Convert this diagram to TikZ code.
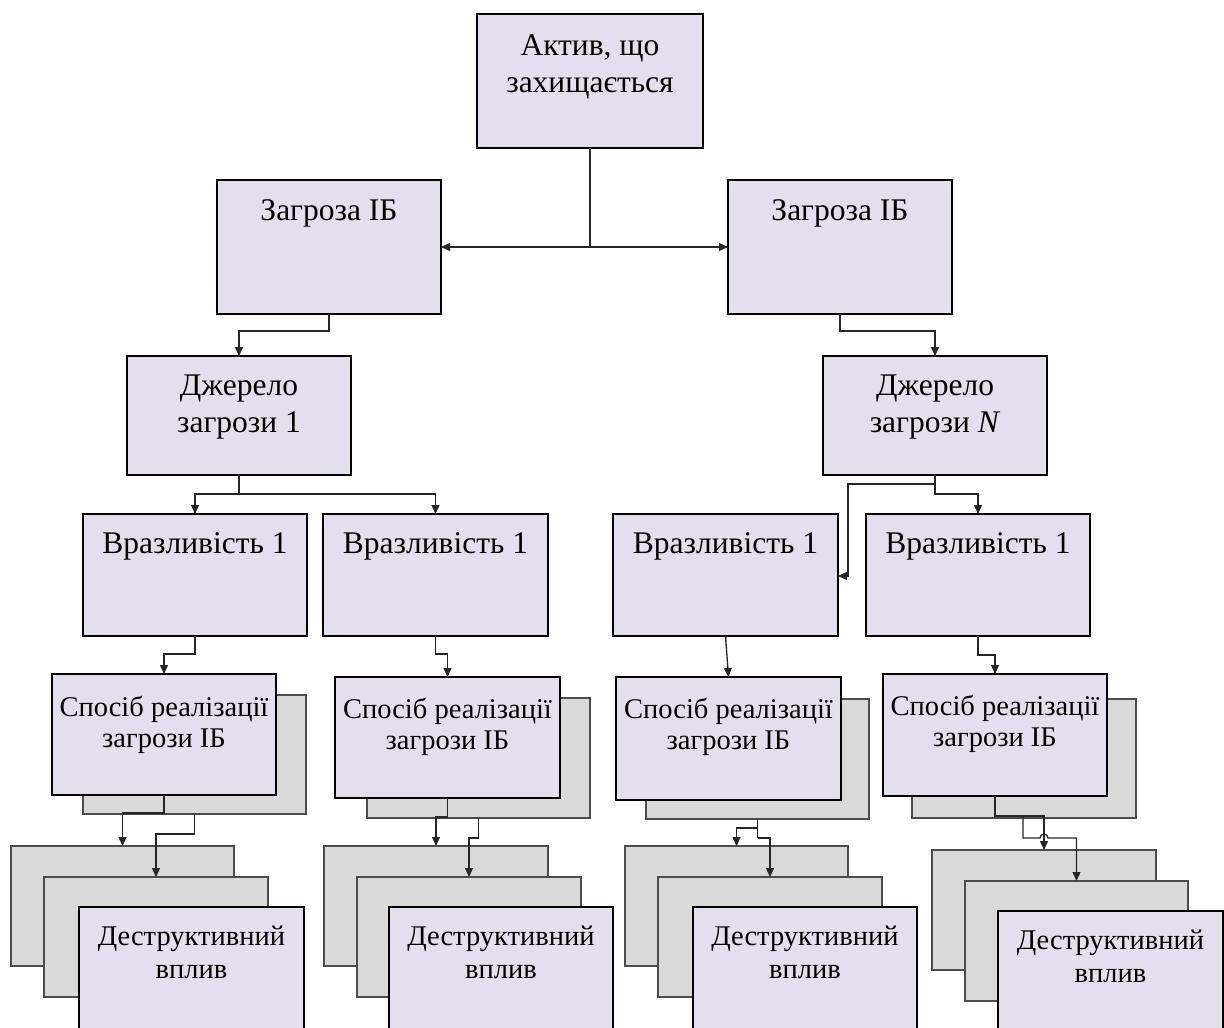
\documentclass[tikz,border=0pt]{standalone}
\usepackage{fontspec}
\setmainfont{Liberation Serif}
\usetikzlibrary{arrows.meta}
\definecolor{lav}{HTML}{E4DFEC}
\definecolor{gr}{HTML}{D9D9D9}
\newcommand\mybox[6]{\node[#6, anchor=north west, minimum width={#4-#2}, minimum height={#5-#3}] (#1) at (#2,#3) {};}
\newcommand\mytxt[4]{\node[lbl, yshift=-#3pt] (#1) at (#2.north) {#4};}
\newcommand\mysmall[4]{\node[lbl, font=\fontsize{28.5}{34}\selectfont, yshift=-#3pt] (#1) at (#2.north) {#4};}
\tikzset{
  front/.style={draw=black, line width=2pt, fill=lav, inner sep=0pt, outer sep=0pt},
  back/.style={draw=black!70, line width=1.3pt, fill=gr, inner sep=0pt, outer sep=0pt},
  lbl/.style={anchor=base, inner sep=0pt, font=\fontsize{31.5}{37}\selectfont},
  conn/.style={draw=black!85, line width=1.3pt},
  arr/.style={conn, -{Triangle[length=9pt,width=8pt]}}
}
\begin{document}
\begin{tikzpicture}[x=1pt,y=-1pt]
\useasboundingbox (0,0) rectangle (1224,1028);
\clip (0,0) rectangle (1224,1028);
\fill[white] (0,0) rectangle (1224,1028);
% top levels
\mybox{T}{477}{14}{703}{148}{front}
\mytxt{T1}{T}{41}{Актив, що}
\mytxt{T2}{T}{78}{захищається}
\mybox{G1}{217}{180}{441}{314}{front}
\mytxt{G1t}{G1}{40}{Загроза ІБ}
\mybox{G2}{728}{180}{952}{314}{front}
\mytxt{G2t}{G2}{40}{Загроза ІБ}
\mybox{J1}{127}{356}{351}{475}{front}
\mytxt{J1a}{J1}{39}{Джерело}
\mytxt{J1b}{J1}{76}{загрози 1}
\mybox{JN}{823}{356}{1047}{475}{front}
\mytxt{JNa}{JN}{39}{Джерело}
\mytxt{JNb}{JN}{76}{загрози \textit{N}}
% vulnerabilities
\mybox{V1}{83}{514}{307}{636}{front}
\mytxt{V1t}{V1}{39}{Вразливість 1}
\mybox{V2}{323}{514}{548}{636}{front}
\mytxt{V2t}{V2}{39}{Вразливість 1}
\mybox{V3}{613}{514}{838}{636}{front}
\mytxt{V3t}{V3}{39}{Вразливість 1}
\mybox{V4}{866}{514}{1090}{636}{front}
\mytxt{V4t}{V4}{39}{Вразливість 1}
% ways of realisation
\mybox{S1b}{83}{695}{306}{814}{back}
\mybox{S1}{52}{674}{276}{795}{front}
\mysmall{S1x}{S1}{42}{Спосіб реалізації}
\mysmall{S1y}{S1}{73}{загрози ІБ}
\mybox{S2b}{367}{698}{590}{818}{back}
\mybox{S2}{335}{677}{560}{798}{front}
\mysmall{S2x}{S2}{41}{Спосіб реалізації}
\mysmall{S2y}{S2}{72}{загрози ІБ}
\mybox{S3b}{646}{699}{869}{819}{back}
\mybox{S3}{616}{677}{841}{800}{front}
\mysmall{S3x}{S3}{41}{Спосіб реалізації}
\mysmall{S3y}{S3}{72}{загрози ІБ}
\mybox{S4b}{912}{699}{1136}{818}{back}
\mybox{S4}{883}{674}{1107}{796}{front}
\mysmall{S4x}{S4}{41}{Спосіб реалізації}
\mysmall{S4y}{S4}{72}{загрози ІБ}
% destructive impacts
\mybox{D1a}{11}{846}{234}{966}{back}
\mybox{D1b}{44}{877}{268}{997}{back}
\mybox{D1c}{79}{907}{304}{1040}{front}
\mysmall{D1x}{D1c}{38}{Деструктивний}
\mysmall{D1y}{D1c}{71}{вплив}
\mybox{D2a}{324}{846}{548}{966}{back}
\mybox{D2b}{357}{877}{581}{997}{back}
\mybox{D2c}{389}{907}{613}{1040}{front}
\mysmall{D2x}{D2c}{38}{Деструктивний}
\mysmall{D2y}{D2c}{71}{вплив}
\mybox{D3a}{625}{846}{848}{966}{back}
\mybox{D3b}{658}{877}{882}{997}{back}
\mybox{D3c}{693}{907}{917}{1040}{front}
\mysmall{D3x}{D3c}{38}{Деструктивний}
\mysmall{D3y}{D3c}{71}{вплив}
\mybox{D4a}{932}{850}{1156}{970}{back}
\mybox{D4b}{965}{881}{1188}{1001}{back}
\mybox{D4c}{998}{911}{1223}{1040}{front}
\mysmall{D4x}{D4c}{38}{Деструктивний}
\mysmall{D4y}{D4c}{71}{вплив}
% connectors
\coordinate (j0) at (590,247);
\draw[conn] (T.south) -- (j0);
\draw[arr] (j0) -- (j0 -| G1.east);
\draw[arr] (j0) -- (j0 -| G2.west);
\draw[arr] (G1.south) -- ++(0,17) -| (J1.north);
\draw[arr] (G2.south) -- ++(0,17) -| (JN.north);
\draw[conn] (J1.south) -- ++(0,19) coordinate (b1);
\draw[arr] (b1) -| (V1.north);
\draw[arr] (b1) -| (V2.north);
\draw[arr] (JN.south) -- ++(0,19) -| (V4.north);
\coordinate (k3) at (848,576);
\draw[arr] (JN.south) ++(0,9) -| (k3) -- (k3 -| V3.east);
\draw[arr] (V1.south) -- ++(0,18) -| (S1.north);
\draw[arr] (V2.south) -- ++(0,18) -| (S2.north);
\draw[arr] (V3.south) -- (S3.north);
\draw[arr] (V4.south) -- ++(0,19) -| (S4.north);
% group 1
\draw[arr] (S1.south) -- ++(0,18) -| (D1a.north);
\draw[arr] (S1b.south) -- ++(0,20) -| (D1b.north);
% group 2
\draw[arr] (S2.south) -- ++(0,19) -| (D2a.north);
\draw[arr] (S2b.south) -- ++(0,20) -| (D2b.north);
% group 3
\draw[conn] (S3b.south) -- ++(0,9) coordinate (c3a) -- ++(0,10) coordinate (c3b);
\draw[arr] (c3a) -| (D3a.north);
\draw[arr] (c3b) -| (D3b.north);
% group 4
\coordinate (c4a) at (1023,816);
\coordinate (c4b) at (1023,838);
\draw[conn] (S4.south) -- (S4.south |- c4a) -- (c4a);
\draw[arr] (c4a) -| (D4a.north);
\draw[arr] (c4a) -- (c4b) -- ([xshift=-4pt]c4b -| D4a.north) arc(180:360:4) -| (D4b.north);
\end{tikzpicture}
\end{document}
